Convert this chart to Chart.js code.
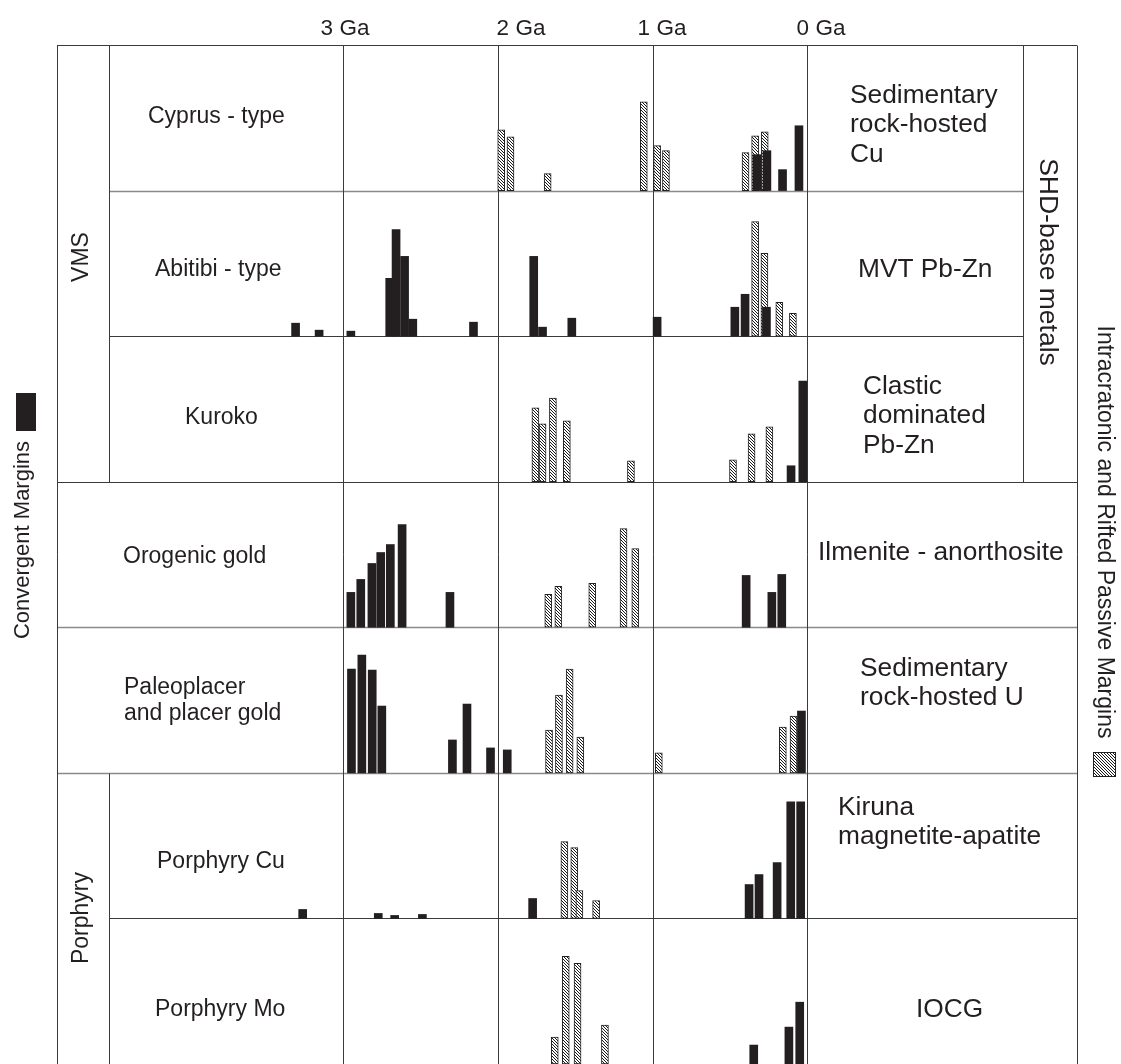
<!DOCTYPE html>
<html>
<head>
<meta charset="utf-8">
<title>Secular distribution of ore deposit types</title>
<script src="https://cdn.jsdelivr.net/npm/chart.js@4.4.1/dist/chart.umd.min.js"></script>
<style>
  html, body { margin: 0; padding: 0; background: #fff; }
  canvas { display: block; }
</style>
</head>
<body>
<canvas id="chart" width="1121" height="1064"></canvas>
<script>
// ---- Data: ages in Ga, bar heights in relative units (one row = 146 units) ----
const ageTicks = [3, 2, 1, 0];
const ageTickLabels = ['3 Ga', '2 Ga', '1 Ga', '0 Ga'];

const leftLabels = [
  ['Cyprus - type'], ['Abitibi - type'], ['Kuroko'], ['Orogenic gold'],
  ['Paleoplacer', 'and placer gold'], ['Porphyry Cu'], ['Porphyry Mo']
];
const rightLabels = [
  ['Sedimentary', 'rock-hosted', 'Cu'], ['MVT Pb-Zn'], ['Clastic', 'dominated', 'Pb-Zn'],
  ['Ilmenite - anorthosite'], ['Sedimentary', 'rock-hosted U'],
  ['Kiruna', 'magnetite-apatite'], ['IOCG']
];
const groupLabels = ['VMS', 'Porphyry', 'SHD-base metals'];
const seriesNames = ['Convergent Margins', 'Intracratonic and Rifted Passive Margins'];

// [age (Ga), relative frequency]
const cyprusConvergent = [[0.327, 36], [0.262, 40], [0.161, 21], [0.055, 65]];
const cyprusRifted = [[1.978, 61], [1.918, 54], [1.678, 17], [1.057, 89], [0.971, 45], [0.914, 40], [0.400, 38], [0.338, 55], [0.276, 59]];

const abitibiConvergent = [[3.306, 13], [3.154, 6], [2.949, 5], [2.698, 58], [2.657, 107], [2.602, 80], [2.549, 17], [2.157, 14], [1.768, 80], [1.711, 9], [1.522, 18], [0.971, 19], [0.469, 29], [0.403, 42], [0.265, 29]];
const abitibiRifted = [[0.338, 115], [0.278, 83], [0.182, 34], [0.094, 23]];

const kurokoConvergent = [[0.106, 16], [0.030, 101]];
const kurokoRifted = [[1.757, 74], [1.711, 58], [1.644, 84], [1.554, 61], [1.140, 21], [0.481, 22], [0.361, 48], [0.246, 55]];

const orogenicConvergent = [[2.949, 35], [2.885, 48], [2.813, 64], [2.756, 75], [2.694, 83], [2.618, 103], [2.309, 35], [0.396, 52], [0.230, 35], [0.166, 53]];
const orogenicRifted = [[1.674, 33], [1.609, 41], [1.390, 44], [1.188, 99], [1.112, 79]];

const placerConvergent = [[2.945, 104], [2.878, 118], [2.811, 103], [2.749, 67], [2.293, 33], [2.199, 69], [2.047, 25], [1.939, 23], [0.039, 62]];
const placerRifted = [[1.669, 43], [1.605, 78], [1.536, 104], [1.467, 36], [0.960, 20], [0.159, 46], [0.090, 57]];

const porphyryCuConvergent = [[3.260, 9], [2.772, 5], [2.666, 3], [2.487, 4], [1.775, 20], [0.377, 34], [0.313, 44], [0.196, 56], [0.108, 117], [0.044, 117]];
const porphyryCuRifted = [[1.570, 77], [1.506, 71], [1.473, 28], [1.365, 18]];

const porphyryMoConvergent = [[0.347, 19], [0.120, 37], [0.050, 62]];
const porphyryMoRifted = [[1.632, 27], [1.561, 108], [1.485, 101], [1.308, 39]];

// ---- Layout and style ----
const ROW = 146;            // value span of one row
const NROWS = 7;
const INK = '#231f20';
const LINE = '#3a3a3a';
const FONT = '"Liberation Sans", Arial, Helvetica, sans-serif';

const rowsConvergent = [cyprusConvergent, abitibiConvergent, kurokoConvergent, orogenicConvergent, placerConvergent, porphyryCuConvergent, porphyryMoConvergent];
const rowsRifted = [cyprusRifted, abitibiRifted, kurokoRifted, orogenicRifted, placerRifted, porphyryCuRifted, porphyryMoRifted];

// diagonal hatch used for the rifted / passive margin bars
function makeHatch() {
  const s = 3;
  const c = document.createElement('canvas');
  c.width = s; c.height = s;
  const g = c.getContext('2d');
  g.fillStyle = '#fff';
  g.fillRect(0, 0, s, s);
  g.strokeStyle = '#1a1a1a';
  g.lineWidth = 1;
  g.beginPath();
  g.moveTo(-1, -1); g.lineTo(s + 1, s + 1);
  g.moveTo(-1, s - 1); g.lineTo(1, s + 1);
  g.moveTo(s - 1, -1); g.lineTo(s + 1, 1);
  g.stroke();
  return g.createPattern(c, 'repeat');
}
const hatch = makeHatch();

const rowBase = i => (NROWS - 1 - i) * ROW;
const toBars = (pairs, i) => pairs.map(([age, h]) => ({ x: age, y: [rowBase(i), rowBase(i) + h] }));

const datasets = [];
rowsConvergent.forEach((pairs, i) => datasets.push({
  label: seriesNames[0] + ' ' + leftLabels[i].join(' '),
  data: toBars(pairs, i),
  backgroundColor: INK,
  borderWidth: 0,
  barThickness: 8,
  grouped: false,
  order: 0
}));
rowsRifted.forEach((pairs, i) => datasets.push({
  label: seriesNames[1] + ' ' + leftLabels[i].join(' '),
  data: toBars(pairs, i),
  backgroundColor: hatch,
  borderColor: '#222',
  borderWidth: 1,
  borderSkipped: false,
  barThickness: 7,
  grouped: false,
  order: 1
}));

// label placement (pixels)
const leftLabelPos = [
  { x: 148, y: 117 }, { x: 155, y: 270 }, { x: 185, y: 418 }, { x: 123, y: 557 },
  { x: 124, y: 701 }, { x: 157, y: 862 }, { x: 155, y: 1010 }
];
const rightLabelPos = [
  { x: 850, y: 125 }, { x: 858, y: 270 }, { x: 863, y: 416 }, { x: 818, y: 553 },
  { x: 860, y: 683 }, { x: 838, y: 822 }, { x: 916, y: 1010 }
];
const tickLabelX = [345, 521, 662, 821];

function textBlock(ctx, lines, x, y, size, lh) {
  ctx.font = size + 'px ' + FONT;
  ctx.textAlign = 'left';
  ctx.textBaseline = 'middle';
  const y0 = y - (lines.length - 1) * lh / 2;
  lines.forEach((t, k) => ctx.fillText(t, x, y0 + k * lh));
}
function vText(ctx, text, x, y, size, angle) {
  ctx.save();
  ctx.translate(x, y);
  ctx.rotate(angle);
  ctx.font = size + 'px ' + FONT;
  ctx.textAlign = 'center';
  ctx.textBaseline = 'middle';
  ctx.fillText(text, 0, 0);
  ctx.restore();
}

const framePlugin = {
  id: 'frame',
  beforeDatasetsDraw(chart) {
    const { ctx, scales: { x, y } } = chart;
    const L = 57, IL = 109, IR = 1023, R = 1077;
    const top = y.getPixelForValue(NROWS * ROW);
    const bottom = y.getPixelForValue(0);
    const rowY = i => Math.round(y.getPixelForValue(rowBase(i))) + 0.5;
    ctx.save();
    const seg = (x1, y1, x2, y2, col, w) => {
      ctx.strokeStyle = col || LINE; ctx.lineWidth = w || 1;
      ctx.beginPath(); ctx.moveTo(x1, y1); ctx.lineTo(x2, y2); ctx.stroke();
    };
    const t = Math.round(top) + 0.5;
    seg(L, t, R, t);
    // row separators
    seg(IL, rowY(0), IR, rowY(0), '#8a8a8a', 1.6);
    seg(IL, rowY(1), IR, rowY(1));
    seg(L, rowY(2), R, rowY(2));
    seg(L, rowY(3), R, rowY(3), '#8a8a8a', 1.6);
    seg(L, rowY(4), R, rowY(4), '#8a8a8a', 1.6);
    seg(IL, rowY(5), R, rowY(5));
    // frame verticals
    seg(L + 0.5, t, L + 0.5, bottom);
    seg(IL + 0.5, t, IL + 0.5, rowY(2));
    seg(IL + 0.5, rowY(4), IL + 0.5, bottom);
    seg(IR + 0.5, t, IR + 0.5, rowY(2));
    seg(R + 0.5, t, R + 0.5, bottom);
    // age lines
    ageTicks.forEach(a => {
      const px = Math.round(x.getPixelForValue(a)) + 0.5;
      seg(px, t, px, bottom);
    });
    ctx.restore();
  },
  afterDraw(chart) {
    const { ctx } = chart;
    ctx.save();
    ctx.fillStyle = INK;
    // age labels
    ctx.font = '22.5px ' + FONT;
    ctx.textAlign = 'center';
    ctx.textBaseline = 'middle';
    ageTickLabels.forEach((s, k) => ctx.fillText(s, tickLabelX[k], 29));
    // deposit-type labels
    leftLabels.forEach((lines, i) => textBlock(ctx, lines, leftLabelPos[i].x, leftLabelPos[i].y, 23, 26));
    rightLabels.forEach((lines, i) => textBlock(ctx, lines, rightLabelPos[i].x, rightLabelPos[i].y, 26.3, 29.5));
    // group labels
    vText(ctx, groupLabels[0], 82, 257, 23, -Math.PI / 2);
    vText(ctx, groupLabels[1], 82, 918, 23, -Math.PI / 2);
    vText(ctx, groupLabels[2], 1047, 262, 26.5, Math.PI / 2);
    // series key
    vText(ctx, seriesNames[0], 23, 540, 22, -Math.PI / 2);
    ctx.fillStyle = INK;
    ctx.fillRect(16, 393, 20, 38);
    vText(ctx, seriesNames[1], 1104, 532, 23, Math.PI / 2);
    ctx.fillStyle = hatch;
    ctx.fillRect(1093, 752, 23, 25);
    ctx.strokeStyle = '#222';
    ctx.lineWidth = 1;
    ctx.strokeRect(1093.5, 752.5, 22, 24);
    ctx.restore();
  }
};

new Chart(document.getElementById('chart'), {
  type: 'bar',
  data: { datasets },
  options: {
    responsive: false,
    animation: false,
    devicePixelRatio: 1,
    layout: { padding: { left: 109, right: 98, top: 45, bottom: 0 } },
    scales: {
      x: { type: 'linear', reverse: true, min: -1.392, max: 4.511, offset: false, display: false },
      y: { type: 'linear', min: 0, max: NROWS * ROW, display: false }
    },
    plugins: { legend: { display: false }, tooltip: { enabled: false } }
  },
  plugins: [framePlugin]
});
</script>
</body>
</html>
